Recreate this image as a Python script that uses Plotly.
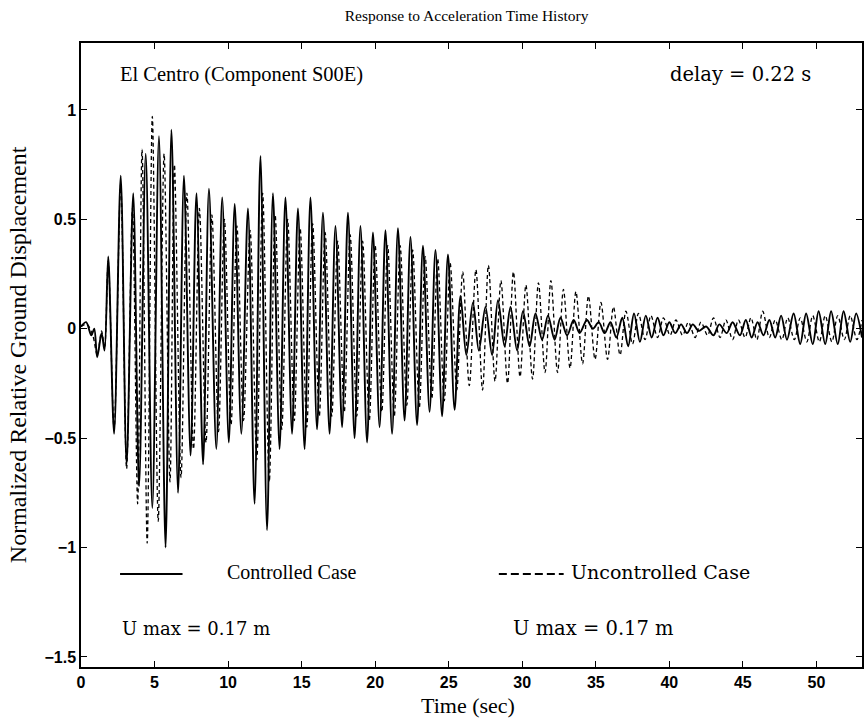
import plotly.graph_objects as go

# Extrema (time in s, normalized displacement) of the controlled response
ctrl_t = [0.0, 0.35, 0.7, 0.9, 1.1, 1.4, 1.6, 1.85, 2.25, 2.7, 3.1, 3.55, 3.95, 4.4, 4.85, 5.3,
          5.75, 6.15, 6.6, 7.0, 7.45, 7.85, 8.3, 8.7, 9.2, 9.6, 10.05, 10.45, 10.9, 11.35, 11.8,
          12.2, 12.65, 13.05, 13.5, 13.9, 14.35, 14.75, 15.2, 15.6, 16.05, 16.45, 16.9, 17.3,
          17.75, 18.15, 18.6, 19.0, 19.45, 19.85, 20.3, 20.7, 21.15, 21.55, 22.0, 22.4, 22.85,
          23.25, 23.7, 24.1, 24.55, 24.95, 25.4, 25.8, 26.2, 26.65, 27.05, 27.5, 27.95, 28.35,
          28.8, 29.2, 29.65, 30.05, 30.5, 30.9, 31.35, 31.75, 32.2, 32.6, 33.05, 33.5, 33.9,
          34.4, 34.8, 35.2, 35.6, 36.0, 36.4, 36.8, 37.2, 37.6, 38.0, 38.4, 38.8, 39.2, 39.6,
          40.0, 40.4, 40.8, 41.2, 41.6, 42.0, 42.5, 43.0, 43.4, 43.9, 44.3, 44.8, 45.2, 45.6,
          46.0, 46.4, 46.8, 47.2, 47.6, 48.0, 48.45, 48.9, 49.3, 49.75, 50.15, 50.6, 51.0,
          51.45, 51.85, 52.3, 52.7, 53.1]
ctrl_v = [0.01, 0.03, -0.03, 0.0, -0.13, -0.02, -0.10, 0.33, -0.48, 0.70, -0.62, 0.62, -0.72,
          0.80, -0.82, 0.88, -1.00, 0.91, -0.75, 0.70, -0.58, 0.62, -0.62, 0.64, -0.55, 0.60,
          -0.52, 0.57, -0.48, 0.55, -0.80, 0.79, -0.92, 0.62, -0.55, 0.60, -0.48, 0.55, -0.55,
          0.60, -0.46, 0.53, -0.48, 0.47, -0.45, 0.53, -0.50, 0.47, -0.52, 0.44, -0.45, 0.45,
          -0.48, 0.46, -0.42, 0.42, -0.44, 0.38, -0.38, 0.36, -0.40, 0.34, -0.37, 0.15, -0.12,
          0.12, -0.10, 0.10, -0.12, 0.13, -0.08, 0.10, -0.10, 0.08, -0.08, 0.07, -0.05, 0.06,
          -0.05, 0.05, -0.03, 0.04, -0.02, 0.04, 0.0, 0.03, -0.02, 0.03, -0.04, 0.05, -0.08,
          0.07, -0.06, 0.06, -0.04, 0.05, -0.03, 0.03, -0.02, 0.02, -0.02, 0.02, -0.01, 0.01,
          -0.03, 0.02, -0.02, 0.03, -0.03, 0.04, -0.04, 0.03, -0.03, 0.04, -0.04, 0.06, -0.05,
          0.07, -0.07, 0.07, -0.07, 0.08, -0.07, 0.08, -0.07, 0.08, -0.06, 0.07, -0.04]

# Extrema of the uncontrolled response
unc_t = [0.0, 0.4, 0.8, 1.1, 1.4, 1.6, 1.85, 2.25, 2.7, 3.1, 3.5, 3.85, 4.15, 4.5, 4.85, 5.25,
         5.65, 6.05, 6.35, 6.8, 7.2, 7.65, 8.05, 8.5, 8.9, 9.35, 9.75, 10.2, 10.6, 11.05, 11.5,
         11.95, 12.35, 12.8, 13.2, 13.65, 14.05, 14.5, 14.9, 15.35, 15.75, 16.2, 16.6, 17.05,
         17.45, 17.9, 18.3, 18.75, 19.15, 19.6, 20.0, 20.45, 20.85, 21.3, 21.7, 22.15, 22.55,
         23.0, 23.4, 23.85, 24.25, 24.7, 25.1, 25.55, 25.95, 26.4, 26.85, 27.3, 27.7, 28.15,
         28.55, 29.0, 29.4, 29.85, 30.25, 30.7, 31.1, 31.55, 31.95, 32.4, 32.8, 33.25, 33.65,
         34.1, 34.5, 34.95, 35.35, 35.8, 36.2, 36.65, 37.05, 37.5, 37.9, 38.35, 38.75, 39.2,
         39.6, 40.05, 40.45, 40.9, 41.3, 41.75, 42.15, 42.6, 43.0, 43.45, 43.85, 44.3, 44.7,
         45.15, 45.55, 45.95, 46.35, 46.8, 47.2, 47.65, 48.05, 48.5, 48.9, 49.35, 49.75, 50.2,
         50.6, 51.05, 51.45, 51.9, 52.3, 52.75, 53.1]
unc_v = [0.01, 0.02, -0.03, -0.12, -0.01, -0.09, 0.31, -0.46, 0.66, -0.64, 0.55, -0.80, 0.82,
         -0.98, 0.97, -0.88, 0.80, -0.70, 0.75, -0.68, 0.62, -0.55, 0.55, -0.52, 0.52, -0.47,
         0.50, -0.44, 0.47, -0.42, 0.45, -0.60, 0.62, -0.70, 0.52, -0.46, 0.50, -0.42, 0.46,
         -0.45, 0.48, -0.40, 0.44, -0.40, 0.40, -0.38, 0.43, -0.40, 0.40, -0.42, 0.38, -0.38,
         0.38, -0.40, 0.38, -0.35, 0.36, -0.36, 0.33, -0.32, 0.32, -0.33, 0.30, -0.28, 0.26,
         -0.26, 0.27, -0.28, 0.29, -0.24, 0.22, -0.25, 0.26, -0.22, 0.20, -0.23, 0.21, -0.20,
         0.22, -0.20, 0.18, -0.18, 0.17, -0.16, 0.15, -0.14, 0.12, -0.14, 0.10, -0.12, 0.08,
         -0.07, 0.07, -0.05, 0.06, -0.04, 0.05, -0.03, 0.04, -0.03, 0.03, -0.04, 0.03, -0.03,
         0.05, -0.04, 0.04, -0.05, 0.04, -0.04, 0.05, -0.05, 0.08, -0.04, 0.04, -0.05, 0.05,
         -0.05, 0.05, -0.06, 0.06, -0.06, 0.06, -0.06, 0.06, -0.05, 0.06, -0.05, 0.04]

x_ticks = [0, 5, 10, 15, 20, 25, 30, 35, 40, 45, 50]
y_ticks = [-1.5, -1, -0.5, 0, 0.5, 1]
y_tick_text = ["\u22121.5", "\u22121", "\u22120.5", "0", "0.5", "1"]

SERIF = "Liberation Serif, Times New Roman, serif"
WIDE_SERIF = "DejaVu Serif, serif"
SANS = "Liberation Sans Narrow, Liberation Sans, Arial, sans-serif"

fig = go.Figure()
fig.add_trace(go.Scatter(
    x=unc_t, y=unc_v, mode="lines", name="Uncontrolled Case",
    line=dict(color="black", width=1.3, dash="4px,3px", shape="spline", smoothing=0.9),
))
fig.add_trace(go.Scatter(
    x=ctrl_t, y=ctrl_v, mode="lines", name="Controlled Case",
    line=dict(color="black", width=1.9, shape="spline", smoothing=0.9),
))

axis_common = dict(
    showline=True, linecolor="black", linewidth=1.5, mirror="ticks",
    ticks="inside", ticklen=6, tickwidth=1, tickcolor="black",
    showgrid=False, zeroline=False,
    tickfont=dict(family=SANS, size=16, color="black", weight="bold"),
)
fig.update_xaxes(range=[0, 53.1], tickvals=x_ticks, **axis_common)
fig.update_yaxes(range=[-1.546, 1.306], tickvals=y_ticks, ticktext=y_tick_text, **axis_common)

# Legend samples drawn as short lines inside the axes
fig.add_shape(type="line", xref="paper", yref="paper", x0=0.050, x1=0.130, y0=0.149, y1=0.149,
              line=dict(color="black", width=1.8))
fig.add_shape(type="line", xref="paper", yref="paper", x0=0.535, x1=0.618, y0=0.149, y1=0.149,
              line=dict(color="black", width=1.8, dash="8px,4px"))

def label(text, x, y, size=20, xanchor="left", angle=0, family=SERIF):
    fig.add_annotation(text=text, x=x, y=y, xref="paper", yref="paper", showarrow=False,
                       xanchor=xanchor, yanchor="middle", textangle=angle,
                       font=dict(family=family, size=size, color="black"))

label("El Centro (Component S00E)", 0.047, 0.950, size=20.5)
label("delay = 0.22 s", 0.752, 0.950, size=19.5, family=WIDE_SERIF)
label("Controlled Case", 0.184, 0.152)
label("Uncontrolled Case", 0.6245, 0.152, size=19, family=WIDE_SERIF)
label("U max = 0.17 m", 0.050, 0.0625, size=18, family=WIDE_SERIF)
label("U max = 0.17 m", 0.5505, 0.0625, size=19.5, family=WIDE_SERIF)
label("Time (sec)", 0.495, -0.061, size=22, xanchor="center")
label("Normalized Relative Ground Displacement", -0.0805, 0.5, size=24, xanchor="center", angle=-90)

fig.update_layout(
    width=864, height=721,
    margin=dict(l=81, r=0, t=43, b=54),
    paper_bgcolor="white", plot_bgcolor="white",
    showlegend=False,
    title=dict(text="Response to Acceleration Time History", x=0.54, xanchor="center",
               y=0.979, yanchor="middle", font=dict(family=SERIF, size=15.5, color="black")),
)

fig.write_html("out.html")
